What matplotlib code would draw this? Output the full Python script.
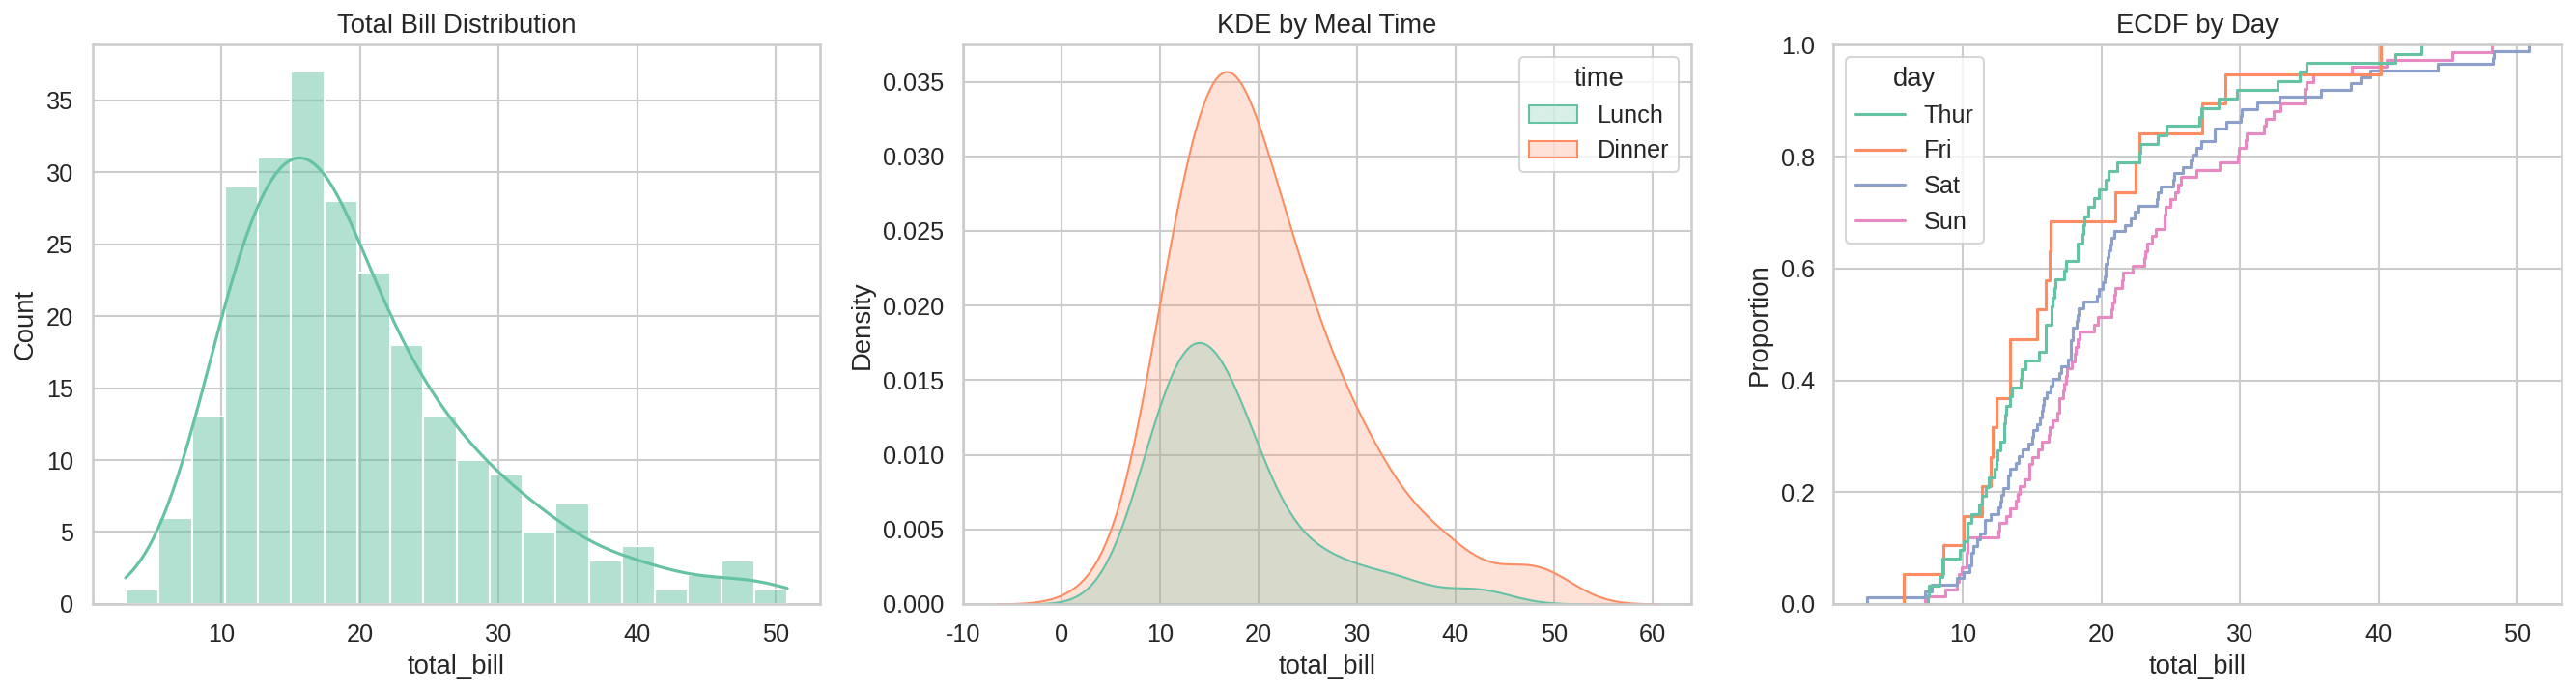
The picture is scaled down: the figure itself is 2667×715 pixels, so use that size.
import pandas as pd
import matplotlib
matplotlib.use('Agg')
import matplotlib.pyplot as plt
import seaborn as sns

# tips dataset, total_bill split by day / time
thur_lunch = [27.20, 22.76, 17.29, 19.44, 16.66, 10.07, 32.68, 15.98, 34.83, 13.03, 18.28, 24.71, 21.16,
              10.65, 12.43, 24.08, 11.69, 13.42, 14.26, 15.95, 12.48, 29.80, 8.52, 14.52, 11.38, 22.82,
              19.08, 20.27, 11.17, 12.26, 18.26, 8.51, 10.33, 14.15, 16.00, 13.16, 17.47, 34.30, 41.19,
              27.05, 16.43, 8.35, 18.64, 11.87, 9.78, 7.51,
              19.81, 28.44, 15.48, 16.58, 7.56, 10.34, 43.11, 13.00, 13.51, 18.71, 12.74, 13.00, 16.40,
              20.53, 16.47]
thur_dinner = [18.78]
fri_lunch = [12.16, 13.42, 8.58, 15.98, 13.42, 16.27, 10.09]
fri_dinner = [28.97, 22.49, 5.75, 16.32, 22.75, 40.17, 27.28, 12.03, 21.01, 12.46, 11.35, 15.38]
sat_dinner = [20.65, 17.92, 20.29, 15.77, 39.42, 19.82, 17.81, 13.37, 12.69, 21.70, 19.65, 9.55, 18.35,
              15.06, 20.69, 17.78, 24.06, 16.31, 16.93, 18.69, 31.27, 16.04,
              38.01, 26.41, 11.24, 48.27, 20.29, 13.81, 11.02, 18.29, 17.59, 20.08, 16.45, 3.07, 20.23,
              15.01, 12.02, 17.07, 26.86, 25.28, 14.73, 10.51, 17.92,
              44.30, 22.42, 20.92, 15.36, 20.49, 25.21, 18.24, 14.31, 14.00, 7.25,
              10.59, 10.63, 50.81, 15.81,
              26.59, 38.73, 24.27, 12.76, 30.06, 25.89, 48.33, 13.27, 28.17, 12.90, 28.15, 11.59, 7.74,
              30.14,
              20.45, 13.28, 22.12, 24.01, 15.69, 11.61, 10.77, 15.53, 10.07, 12.60, 32.83, 35.83, 29.03,
              27.18, 22.67, 17.82]
sun_dinner = [16.99, 10.34, 21.01, 23.68, 24.59, 25.29, 8.77, 26.88, 15.04, 14.78, 10.27, 35.26, 15.42,
              18.43, 14.83, 21.58, 10.33, 16.29, 16.97,
              17.46, 13.94, 9.68, 30.40, 18.29, 22.23, 32.40, 28.55, 18.04, 12.54, 10.29, 34.81, 9.94,
              25.56, 19.49,
              38.07, 23.95, 25.71, 17.31, 29.93,
              14.07, 13.13, 17.26, 24.55, 19.77, 29.85, 48.17, 25.00, 13.39, 16.49, 21.50, 12.66, 16.21,
              13.81, 17.51, 24.52, 20.76, 31.71,
              7.25, 31.85, 16.82, 32.90, 17.89, 14.48, 9.60, 34.63, 34.65, 23.33, 45.35, 23.17, 40.55,
              20.69, 20.90, 30.46, 18.15, 23.10, 15.69]

day_order = ['Thur', 'Fri', 'Sat', 'Sun']
time_order = ['Lunch', 'Dinner']

groups = [('Thur', 'Lunch', thur_lunch), ('Thur', 'Dinner', thur_dinner),
          ('Fri', 'Lunch', fri_lunch), ('Fri', 'Dinner', fri_dinner),
          ('Sat', 'Dinner', sat_dinner), ('Sun', 'Dinner', sun_dinner)]
rows = []
for day, time, vals in groups:
    for v in vals:
        rows.append({'total_bill': v, 'day': day, 'time': time})
tips = pd.DataFrame(rows)

sns.set_theme(style='whitegrid', palette='Set2', font_scale=1.1)
plt.rcParams['font.family'] = ['Liberation Sans', 'DejaVu Sans']
plt.rcParams['axes.unicode_minus'] = False

fig, axes = plt.subplots(1, 3, figsize=(2667 / 150, 715 / 150))

sns.histplot(data=tips, x='total_bill', bins=20, kde=True, ax=axes[0])
axes[0].set_title('Total Bill Distribution')

sns.kdeplot(data=tips, x='total_bill', hue='time', hue_order=time_order, fill=True, ax=axes[1])
axes[1].set_title('KDE by Meal Time')

sns.ecdfplot(data=tips, x='total_bill', hue='day', hue_order=day_order, ax=axes[2])
axes[2].set_title('ECDF by Day')

fig.subplots_adjust(left=0.0359, right=0.9944, bottom=0.126, top=0.935, wspace=0.196)
plt.savefig('out.png', dpi=150)
